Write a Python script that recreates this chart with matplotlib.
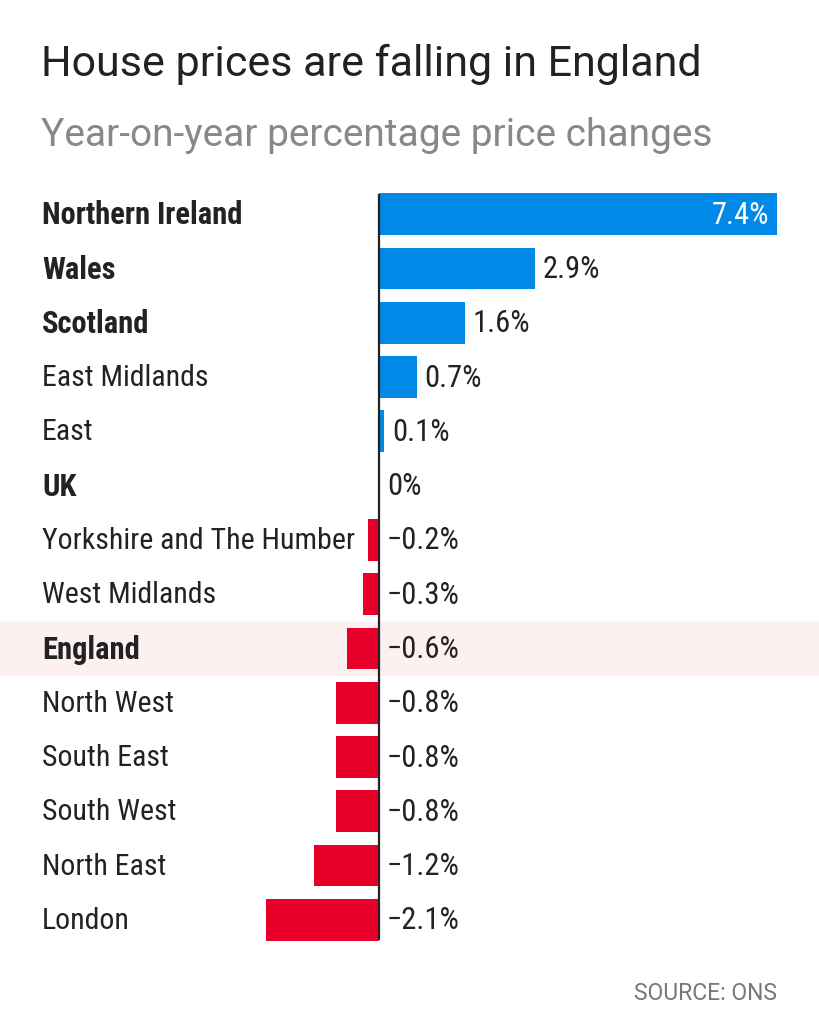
import matplotlib
matplotlib.use("Agg")
import matplotlib.pyplot as plt
from matplotlib.patches import Rectangle
from matplotlib.transforms import blended_transform_factory

regions = ["Northern Ireland", "Wales", "Scotland", "East Midlands", "East", "UK",
           "Yorkshire and The Humber", "West Midlands", "England", "North West",
           "South East", "South West", "North East", "London"]
values = [7.4, 2.9, 1.6, 0.7, 0.1, 0.0, -0.2, -0.3, -0.6, -0.8, -0.8, -0.8, -1.2, -2.1]
value_labels = ["7.4%", "2.9%", "1.6%", "0.7%", "0.1%", "0%", "\u22120.2%", "\u22120.3%",
                "\u22120.6%", "\u22120.8%", "\u22120.8%", "\u22120.8%", "\u22121.2%", "\u22122.1%"]
bold_regions = {"Northern Ireland", "Wales", "Scotland", "UK", "England"}
highlight = "England"

title = "House prices are falling in England"
subtitle = "Year-on-year percentage price changes"
source = "SOURCE: ONS"

FONT = ["Roboto Condensed", "Roboto", "DejaVu Sans"]
HEAD = ["Roboto", "DejaVu Sans"]
plt.rcParams["font.family"] = FONT

W, H = 820, 1024
fig = plt.figure(figsize=(W / 100, H / 100), dpi=100)
fig.patch.set_facecolor("white")

x0, x1 = 266, 777
y_top, y_bot = 187, 947
ax = fig.add_axes([x0 / W, 1 - y_bot / H, (x1 - x0) / W, (y_bot - y_top) / H])
ax.patch.set_alpha(0)
n = len(regions)
ax.set_xlim(-2.1, 7.4)
ax.set_ylim(n - 0.5, -0.5)
ax.axis("off")

BLUE = "#0089e6"
RED = "#e8002b"
colors = [BLUE if v > 0 else RED for v in values]
ypos = list(range(n))
ax.barh(ypos, values, height=0.77, color=colors, zorder=2)

ax.plot([0, 0], [-0.38, n - 1 + 0.38], color="#222222", lw=1.6, zorder=3, solid_capstyle="butt")

trans = blended_transform_factory(fig.transFigure, ax.transData)
hi = regions.index(highlight)
ax.add_patch(Rectangle((0, hi - 0.5), 1, 1, transform=trans, facecolor="#fdf0f1",
                       edgecolor="none", zorder=0, clip_on=False))

px = (7.4 + 2.1) / (x1 - x0)
LS = 21.5
VS = 22
for i, (r, v, lab) in enumerate(zip(regions, values, value_labels)):
    bold = r in bold_regions
    ax.text(42 / W, i + 0.02, r, transform=trans, ha="left", va="center",
            fontsize=LS + (0.5 if bold else 0), color="#222222",
            fontweight="bold" if bold else "normal")
    if v >= 7:
        ax.text(v - 8 * px, i + 0.02, lab, ha="right", va="center", fontsize=VS, color="white", zorder=4)
    elif v > 0:
        ax.text(v + 8 * px, i + 0.02, lab, ha="left", va="center", fontsize=VS, color="#222222", zorder=4)
    else:
        ax.text(8 * px, i + 0.02, lab, ha="left", va="center", fontsize=VS, color="#222222", zorder=4)

fig.text(41 / W, 1 - 64 / H, title, ha="left", va="center", fontsize=31, color="#222222",
         family=HEAD)
fig.text(41 / W, 1 - 135 / H, subtitle, ha="left", va="center", fontsize=28, color="#888888",
         family=HEAD)
fig.text(777 / W, 1 - 993 / H, source, ha="right", va="center", fontsize=16.5, color="#777777",
         family=HEAD)

fig.savefig("out.png", dpi=100, facecolor="white")
